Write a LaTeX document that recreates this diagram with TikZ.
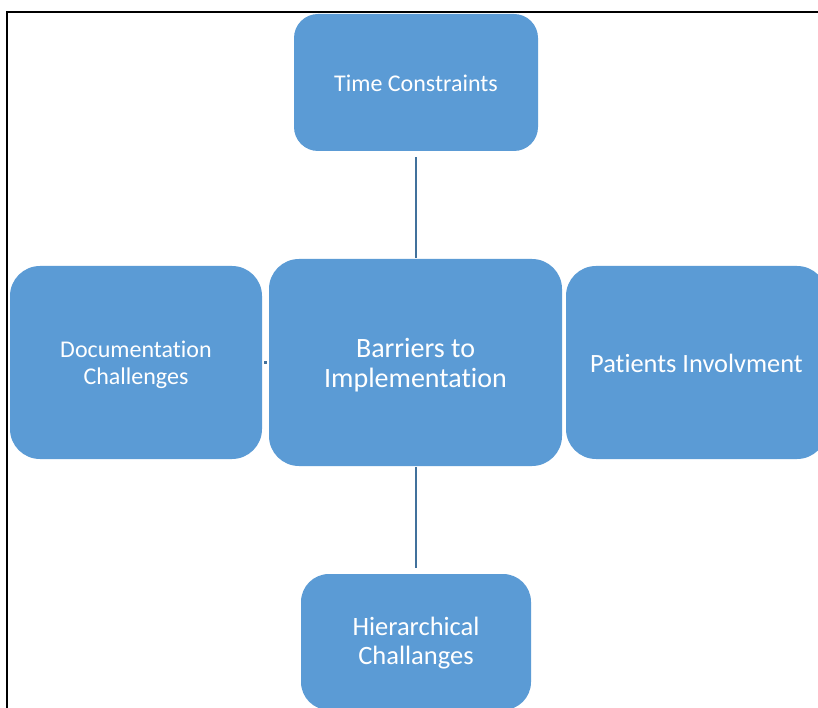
\documentclass[tikz,border=0pt]{standalone}
\usepackage{fontspec}
\setmainfont[Ligatures={NoCommon,NoContextual},RawFeature={-liga;-clig;-calt}]{Carlito}
\definecolor{boxblue}{HTML}{5B9BD5}
\definecolor{linkblue}{HTML}{41719C}
\tikzset{
  topic/.style={draw=none, fill=boxblue, rounded corners=#1, inner sep=0pt},
  topic/.default=28pt,
  caption/.style={text=white, align=center, inner sep=0pt},
  link/.style={draw=linkblue, line width=2pt}
}
\begin{document}
\begin{tikzpicture}[x=1pt,y=1pt]
\useasboundingbox (0,0) rectangle (818,707);
\clip (0,0) rectangle (818,707);
\fill[white] (0,0) rectangle (818,707);
% frame
\draw[black, line width=2.6pt] (7,-2) -- (7,695) -- (822,695);
\node[topic=24pt, minimum width=244pt, minimum height=137pt] (time) at (416,624.5) {};
\node[topic=30pt, minimum width=293pt, minimum height=207pt] (center) at (415.5,344.5) {};
\node[topic=30pt, minimum width=252pt, minimum height=193pt] (doc) at (136,344.5) {};
\node[topic=30pt, minimum width=261pt, minimum height=193pt] (pat) at (696.5,344.5) {};
\node[topic=28pt, minimum width=230pt, minimum height=136pt] (hier) at (416,65) {};
\node[caption, font=\fontsize{24}{27}\selectfont] (timet) at ([yshift=-1pt]time.center) {Time Constraints};
\node[caption, font=\fontsize{28}{30}\selectfont] (centert) at ([yshift=-2.5pt]center.center) {Barriers to\\Implementation};
\node[caption, font=\fontsize{24}{27}\selectfont] (doct) at ([yshift=-2pt]doc.center) {Documentation\\Challenges};
\node[caption, font=\fontsize{26.4}{29}\selectfont] (patt) at ([yshift=-0.5pt]pat.center) {Patients Involvment};
\node[caption, font=\fontsize{26.5}{29}\selectfont] (hiert) at ([yshift=-1.5pt]hier.center) {Hierarchical\\Challanges};
\draw[link, shorten <=6pt, shorten >=1pt] (time.south) -- (time.south |- center.north);
\draw[link, shorten <=1pt, shorten >=6pt] (hier.north |- center.south) -- (hier.north);
\draw[link, line width=3pt, shorten <=2pt, shorten >=2pt] (doc.east) -- (center.west);
\end{tikzpicture}
\end{document}
